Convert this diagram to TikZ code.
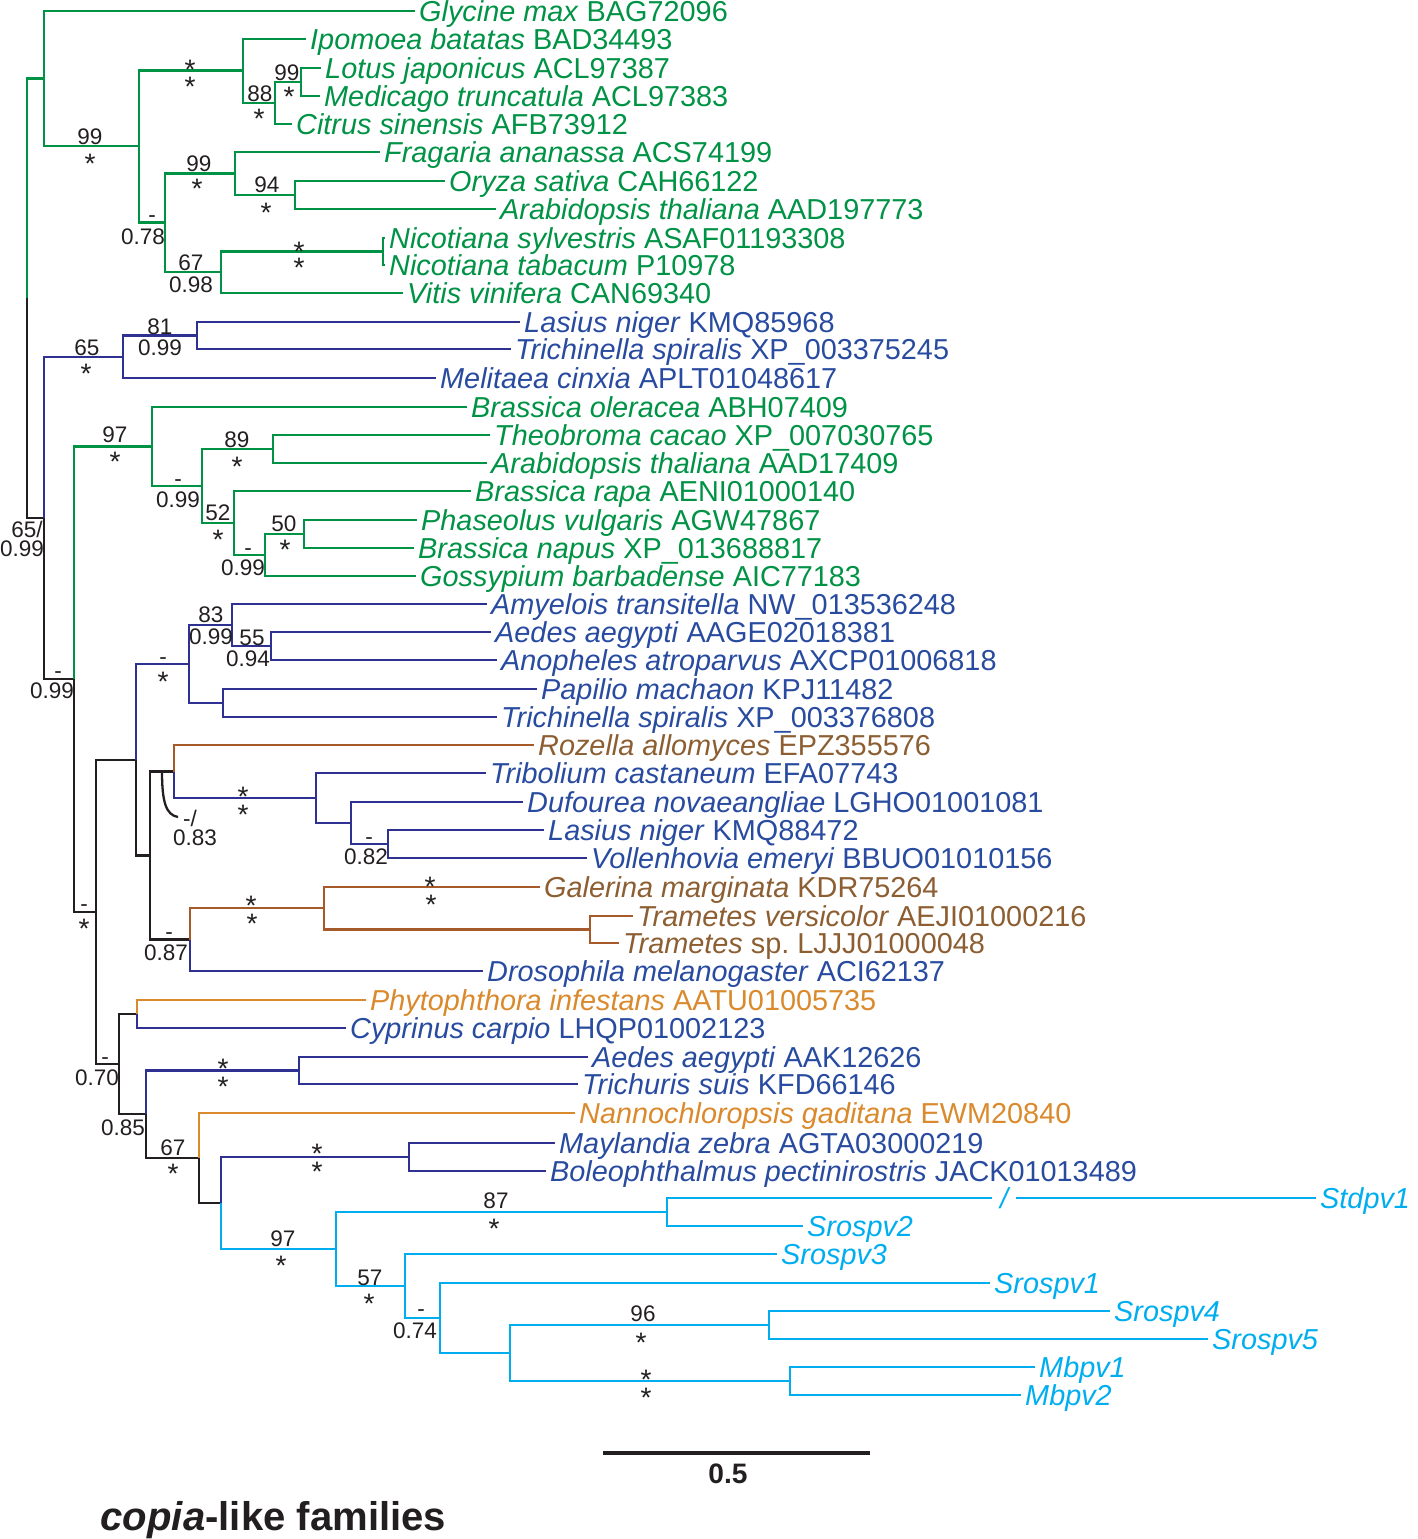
\documentclass[tikz,border=0pt]{standalone}
\usepackage{fontspec}
\setmainfont{Liberation Sans}
\usepackage{xcolor}
\usepackage{tikz}

\definecolor{plantgreen}{RGB}{0,146,69}
\definecolor{metabranch}{RGB}{46,49,146}
\definecolor{metatext}{RGB}{40,75,160}
\definecolor{fungbranch}{RGB}{166,90,42}
\definecolor{fungtext}{RGB}{140,94,50}
\definecolor{stramorange}{RGB}{218,138,44}
\definecolor{phagecyan}{RGB}{0,174,239}
\definecolor{rootblack}{RGB}{35,31,32}

\newcommand{\leaffont}{\fontsize{8.2}{9.8}\selectfont}
\newcommand{\supfont}{\fontsize{6.4}{7.6}\selectfont}
\newcommand{\astfont}{\fontsize{8}{9.6}\selectfont}
\newcommand{\pstar}{\raisebox{-3.35pt}{*}}

\begin{document}
\begin{tikzpicture}[
    x=0.01cm, y=-0.01cm,
    branch/.style={line width=0.65pt},
    kbr/.style={branch, draw=rootblack},
    gbr/.style={branch, draw=plantgreen},
    mbr/.style={branch, draw=metabranch},
    fbr/.style={branch, draw=fungbranch},
    obr/.style={branch, draw=stramorange},
    cbr/.style={branch, draw=phagecyan},
    leaf/.style={anchor=west, inner xsep=1pt, inner ysep=0pt, text height=5.9pt, text depth=0pt, font=\leaffont},
    plant/.style={leaf, text=plantgreen},
    meta/.style={leaf, text=metatext},
    fung/.style={leaf, text=fungtext},
    stram/.style={leaf, text=stramorange},
    phage/.style={leaf, text=phagecyan, font=\leaffont\itshape},
    bs/.style={inner sep=0pt, text height=4.6pt, text depth=0pt, font=\supfont, text=rootblack},
    ast/.style={inner sep=0pt, text height=2.4pt, text depth=0pt, font=\astfont, text=rootblack},
]
\useasboundingbox (0,0) rectangle (1418,1539);

% Internal nodes
\coordinate (r0) at (27,298);
\coordinate (r1) at (44,518);
\coordinate (r2) at (74,679);
\coordinate (r3) at (96,912);
\coordinate (r4) at (136,760);
\coordinate (r5) at (150,855.5);
\coordinate (r6) at (174,771.5);
\coordinate (r7) at (190,939.5);
\coordinate (r8) at (119,1064);
\coordinate (r9) at (137,1014);
\coordinate (r10) at (146,1114);
\coordinate (r11) at (199,1158);
\coordinate (r12) at (221,1203);

\coordinate (g0) at (44,78.5);
\coordinate (g1) at (139,146);
\coordinate (g2) at (243,70.5);
\coordinate (g3) at (275,103);
\coordinate (g4) at (301,82);
\coordinate (g5) at (165,222.5);
\coordinate (g6) at (235,173.5);
\coordinate (g7) at (295,195);
\coordinate (g8) at (221,272);
\coordinate (g9) at (383,251.5);

\coordinate (b0) at (123,357);
\coordinate (b1) at (197,335.5);

\coordinate (p0) at (152,446.5);
\coordinate (p1) at (202,486);
\coordinate (p2) at (273,449);
\coordinate (p3) at (234,523);
\coordinate (p4) at (265,555);
\coordinate (p5) at (304,534);

\coordinate (m0) at (189,664);
\coordinate (m1) at (232,625);
\coordinate (m2) at (271,646);
\coordinate (m3) at (223,703);

\coordinate (t0) at (316,798);
\coordinate (t1) at (351,823);
\coordinate (t2) at (388,844);
\coordinate (f0) at (324,908);
\coordinate (f1) at (590,929.5);
\coordinate (a0) at (299,1070.5);
\coordinate (z0) at (409,1157);

\coordinate (c0) at (336,1249);
\coordinate (c1) at (667,1212);
\coordinate (c2) at (405,1286);
\coordinate (c3) at (440,1318);
\coordinate (c4) at (510,1353);
\coordinate (c5) at (769,1325);
\coordinate (c6) at (790,1381);

% Leaves: plants (top)
\node[plant] (glycine) at (415,11) {\textit{Glycine max} BAG72096};
\node[plant] (ipomoea) at (306,39) {\textit{Ipomoea batatas} BAD34493};
\node[plant] (lotus) at (321,68) {\textit{Lotus japonicus} ACL97387};
\node[plant] (medicago) at (320,96) {\textit{Medicago truncatula} ACL97383};
\node[plant] (citrus) at (292,124) {\textit{Citrus sinensis} AFB73912};
\node[plant] (fragaria) at (380,152) {\textit{Fragaria ananassa} ACS74199};
\node[plant] (oryza) at (445,181) {\textit{Oryza sativa} CAH66122};
\node[plant] (arabidA) at (496,209) {\textit{Arabidopsis thaliana} AAD197773};
\node[plant] (nicsyl) at (385,238) {\textit{Nicotiana sylvestris} ASAF01193308};
\node[plant] (nictab) at (385,265) {\textit{Nicotiana tabacum} P10978};
\node[plant] (vitis) at (403,293) {\textit{Vitis vinifera} CAN69340};

% Leaves: metazoa (upper)
\node[meta] (lasiusA) at (520,322) {\textit{Lasius niger} KMQ85968};
\node[meta] (trichA) at (511,349) {\textit{Trichinella spiralis} XP\_003375245};
\node[meta] (melitaea) at (436,378) {\textit{Melitaea cinxia} APLT01048617};

% Leaves: plants (lower)
\node[plant] (brassO) at (467,407) {\textit{Brassica oleracea} ABH07409};
\node[plant] (theobroma) at (490,435) {\textit{Theobroma cacao} XP\_007030765};
\node[plant] (arabidB) at (487,463) {\textit{Arabidopsis thaliana} AAD17409};
\node[plant] (brassR) at (471,491) {\textit{Brassica rapa} AENI01000140};
\node[plant] (phaseolus) at (417,520) {\textit{Phaseolus vulgaris} AGW47867};
\node[plant] (brassN) at (414,548) {\textit{Brassica napus} XP\_013688817};
\node[plant] (gossypium) at (416,576) {\textit{Gossypium barbadense} AIC77183};

% Leaves: mixed middle
\node[meta] (amyelois) at (487,604) {\textit{Amyelois transitella} NW\_013536248};
\node[meta] (aedesA) at (491,632) {\textit{Aedes aegypti} AAGE02018381};
\node[meta] (anopheles) at (497,660) {\textit{Anopheles atroparvus} AXCP01006818};
\node[meta] (papilio) at (537,689) {\textit{Papilio machaon} KPJ11482};
\node[meta] (trichB) at (497,717) {\textit{Trichinella spiralis} XP\_003376808};
\node[fung] (rozella) at (534,745) {\textit{Rozella allomyces} EPZ355576};
\node[meta] (tribolium) at (486,773) {\textit{Tribolium castaneum} EFA07743};
\node[meta] (dufourea) at (523,802) {\textit{Dufourea novaeangliae} LGHO01001081};
\node[meta] (lasiusB) at (544,830) {\textit{Lasius niger} KMQ88472};
\node[meta] (vollen) at (587,858) {\textit{Vollenhovia emeryi} BBUO01010156};
\node[fung] (galerina) at (540,887) {\textit{Galerina marginata} KDR75264};
\node[fung] (tramV) at (633,916) {\textit{Trametes versicolor} AEJI01000216};
\node[fung] (tramS) at (619,943) {\textit{Trametes} sp.\ LJJJ01000048};
\node[meta] (drosophila) at (483,971) {\textit{Drosophila melanogaster} ACI62137};
\node[stram] (phyto) at (366,1000) {\textit{Phytophthora infestans} AATU01005735};
\node[meta] (cyprinus) at (346,1028) {\textit{Cyprinus carpio} LHQP01002123};
\node[meta] (aedesB) at (588,1057) {\textit{Aedes aegypti} AAK12626};
\node[meta] (trichuris) at (578,1084) {\textit{Trichuris suis} KFD66146};
\node[stram] (nanno) at (575,1113) {\textit{Nannochloropsis gaditana} EWM20840};
\node[meta] (maylandia) at (555,1143) {\textit{Maylandia zebra} AGTA03000219};
\node[meta] (boleo) at (546,1171) {\textit{Boleophthalmus pectinirostris} JACK01013489};

% Leaves: phages
\node[phage] (stdpv1) at (1316,1198) {Stdpv1};
\node[phage] (srospv2) at (803,1226) {Srospv2};
\node[phage] (srospv3) at (777,1254) {Srospv3};
\node[phage] (srospv1) at (990,1283) {Srospv1};
\node[phage] (srospv4) at (1110,1311) {Srospv4};
\node[phage] (srospv5) at (1208,1339) {Srospv5};
\node[phage] (mbpv1) at (1035,1367) {Mbpv1};
\node[phage] (mbpv2) at (1021,1395) {Mbpv2};
\node[phage, inner xsep=2pt, anchor=center] (brk) at (1004,1198) {/};

% Branches
\draw[gbr] (r0) |- (g0);
\draw[kbr] (r0) |- (r1);
\draw[gbr] (g0) |- (glycine);
\draw[gbr] (g0) |- (g1);
\draw[gbr] (g1) |- (g2);
\draw[gbr] (g1) |- (g5);
\draw[gbr] (g2) |- (ipomoea);
\draw[gbr] (g2) |- (g3);
\draw[gbr] (g3) |- (g4);
\draw[gbr] (g3) |- (citrus);
\draw[gbr] (g4) |- (lotus);
\draw[gbr] (g4) |- (medicago);
\draw[gbr] (g5) |- (g6);
\draw[gbr] (g5) |- (g8);
\draw[gbr] (g6) |- (fragaria);
\draw[gbr] (g6) |- (g7);
\draw[gbr] (g7) |- (oryza);
\draw[gbr] (g7) |- (arabidA);
\draw[gbr] (g8) |- (g9);
\draw[gbr] (g8) |- (vitis);
\draw[gbr] (g9) |- (nicsyl);
\draw[gbr] (g9) |- (nictab);

\draw[mbr] (r1) |- (b0);
\draw[kbr] (r1) |- (r2);
\draw[mbr] (b0) |- (b1);
\draw[mbr] (b0) |- (melitaea);
\draw[mbr] (b1) |- (lasiusA);
\draw[mbr] (b1) |- (trichA);

\draw[gbr] (r2) |- (p0);
\draw[kbr] (r2) |- (r3);
\draw[gbr] (p0) |- (brassO);
\draw[gbr] (p0) |- (p1);
\draw[gbr] (p1) |- (p2);
\draw[gbr] (p1) |- (p3);
\draw[gbr] (p2) |- (theobroma);
\draw[gbr] (p2) |- (arabidB);
\draw[gbr] (p3) |- (brassR);
\draw[gbr] (p3) |- (p4);
\draw[gbr] (p4) |- (p5);
\draw[gbr] (p4) |- (gossypium);
\draw[gbr] (p5) |- (phaseolus);
\draw[gbr] (p5) |- (brassN);

\draw[kbr] (r3) |- (r4);
\draw[kbr] (r3) |- (r8);
\draw[mbr] (r4) |- (m0);
\draw[kbr] (r4) |- (r5);
\draw[mbr] (m0) |- (m1);
\draw[mbr] (m0) |- (m3);
\draw[mbr] (m1) |- (amyelois);
\draw[mbr] (m1) |- (m2);
\draw[mbr] (m2) |- (aedesA);
\draw[mbr] (m2) |- (anopheles);
\draw[mbr] (m3) |- (papilio);
\draw[mbr] (m3) |- (trichB);

\draw[kbr] (r5) |- (r6);
\draw[kbr] (r5) |- (r7);
\draw[fbr] (r6) |- (rozella);
\draw[mbr] (r6) |- (t0);
\draw[mbr] (t0) |- (tribolium);
\draw[mbr] (t0) |- (t1);
\draw[mbr] (t1) |- (dufourea);
\draw[mbr] (t1) |- (t2);
\draw[mbr] (t2) |- (lasiusB);
\draw[mbr] (t2) |- (vollen);
\draw[fbr] (r7) |- (f0);
\draw[mbr] (r7) |- (drosophila);
\draw[fbr] (f0) |- (galerina);
\draw[fbr] (f0) |- (f1);
\draw[fbr] (f1) |- (tramV);
\draw[fbr] (f1) |- (tramS);

\draw[kbr] (r8) |- (r9);
\draw[kbr] (r8) |- (r10);
\draw[obr] (r9) |- (phyto);
\draw[mbr] (r9) |- (cyprinus);
\draw[mbr] (r10) |- (a0);
\draw[kbr] (r10) |- (r11);
\draw[mbr] (a0) |- (aedesB);
\draw[mbr] (a0) |- (trichuris);
\draw[obr] (r11) |- (nanno);
\draw[kbr] (r11) |- (r12);
\draw[mbr] (r12) |- (z0);
\draw[cbr] (r12) |- (c0);
\draw[mbr] (z0) |- (maylandia);
\draw[mbr] (z0) |- (boleo);

\draw[cbr] (c0) |- (c1);
\draw[cbr] (c0) |- (c2);
\draw[cbr] (c1) |- (brk.west);
\draw[cbr] (brk.east) -- (stdpv1);
\draw[cbr] (c1) |- (srospv2);
\draw[cbr] (c2) |- (srospv3);
\draw[cbr] (c2) |- (c3);
\draw[cbr] (c3) |- (srospv1);
\draw[cbr] (c3) |- (c4);
\draw[cbr] (c4) |- (c5);
\draw[cbr] (c4) |- (c6);
\draw[cbr] (c5) |- (srospv4);
\draw[cbr] (c5) |- (srospv5);
\draw[cbr] (c6) |- (mbpv1);
\draw[cbr] (c6) |- (mbpv2);

% Arc marking the -/0.83 node
\coordinate (arcA) at (162,771.5);
\coordinate (arcB) at (178,817);
\draw[kbr] (arcA) .. controls (162,802) and (166,815) .. (arcB);

% Support values
\node[bs] (g1bs) at (90,136) {99};
\node[ast] (g1pp) at (90,157) {\pstar};
\node[ast] (g2bs) at (190,63) {\pstar};
\node[ast] (g2pp) at (190,80) {\pstar};
\node[bs] (g4bs) at (287,72) {99};
\node[ast] (g4pp) at (289,90) {\pstar};
\node[bs] (g3bs) at (260,93) {88};
\node[ast] (g3pp) at (259,112) {\pstar};
\node[bs] (g6bs) at (199,163) {99};
\node[ast] (g6pp) at (197,182) {\pstar};
\node[bs] (g7bs) at (267,184) {94};
\node[ast] (g7pp) at (266,206) {\pstar};
\node[bs] (g5bs) at (152,214) {-};
\node[bs] (g5pp) at (143,236) {0.78};
\node[ast] (g9bs) at (299,245) {\pstar};
\node[ast] (g9pp) at (299,261) {\pstar};
\node[bs] (g8bs) at (191,262) {67};
\node[bs] (g8pp) at (191,284) {0.98};

\node[bs] (b0bs) at (87,347) {65};
\node[ast] (b0pp) at (86,367) {\pstar};
\node[bs] (b1bs) at (160,326) {81};
\node[bs] (b1pp) at (160,347) {0.99};
\node[bs] (r1bs) at (27,529) {65/};
\node[bs] (r1pp) at (22,548) {0.99};

\node[bs] (p0bs) at (115,434) {97};
\node[ast] (p0pp) at (115,455) {\pstar};
\node[bs] (p1bs) at (178,478) {-};
\node[bs] (p1pp) at (178,499) {0.99};
\node[bs] (p2bs) at (237,439) {89};
\node[ast] (p2pp) at (237,460) {\pstar};
\node[bs] (p3bs) at (218,512) {52};
\node[ast] (p3pp) at (218,533) {\pstar};
\node[bs] (p5bs) at (284,523) {50};
\node[ast] (p5pp) at (285,543) {\pstar};
\node[bs] (p4bs) at (248,547) {-};
\node[bs] (p4pp) at (243,567) {0.99};
\node[bs] (r2bs) at (58,670) {-};
\node[bs] (r2pp) at (52,690) {0.99};

\node[bs] (m0bs) at (163,656) {-};
\node[ast] (m0pp) at (163,675) {\pstar};
\node[bs] (m1bs) at (211,614) {83};
\node[bs] (m1pp) at (211,636) {0.99};
\node[bs] (m2bs) at (252,637) {55};
\node[bs] (m2pp) at (248,658) {0.94};
\node[ast] (t0bs) at (243,790) {\pstar};
\node[ast] (t0pp) at (243,808) {\pstar};
\node[bs] (r6bs) at (190,818) {-/};
\node[bs] (r6pp) at (195,837) {0.83};
\node[bs] (t2bs) at (369,836) {-};
\node[bs] (t2pp) at (366,856) {0.82};
\node[ast] (gmbs) at (430,880) {\pstar};
\node[ast] (gmpp) at (431,898) {\pstar};
\node[ast] (f0bs) at (251,899) {\pstar};
\node[ast] (f0pp) at (252,917) {\pstar};
\node[bs] (r7bs) at (169,931) {-};
\node[bs] (r7pp) at (166,952) {0.87};
\node[bs] (r3bs) at (84,903) {-};
\node[ast] (r3pp) at (84,922) {\pstar};
\node[bs] (r8bs) at (105,1056) {-};
\node[bs] (r8pp) at (97,1077) {0.70};
\node[ast] (a0bs) at (223,1062) {\pstar};
\node[ast] (a0pp) at (223,1080) {\pstar};
\node[bs] (r10pp) at (123,1127) {0.85};
\node[bs] (r11bs) at (173,1147) {67};
\node[ast] (r11pp) at (173,1167) {\pstar};
\node[ast] (z0bs) at (317,1147) {\pstar};
\node[ast] (z0pp) at (317,1165) {\pstar};

\node[bs] (c1bs) at (496,1200) {87};
\node[ast] (c1pp) at (494,1222) {\pstar};
\node[bs] (c0bs) at (283,1238) {97};
\node[ast] (c0pp) at (281,1259) {\pstar};
\node[bs] (c2bs) at (370,1277) {57};
\node[ast] (c2pp) at (369,1297) {\pstar};
\node[bs] (c3bs) at (421,1308) {-};
\node[bs] (c3pp) at (415,1330) {0.74};
\node[bs] (c5bs) at (643,1313) {96};
\node[ast] (c5pp) at (641,1336) {\pstar};
\node[ast] (c6bs) at (646,1373) {\pstar};
\node[ast] (c6pp) at (646,1391) {\pstar};

% Scale bar and title
\coordinate (sbL) at (603,1453);
\coordinate (sbR) at (870,1453);
\draw[rootblack, line width=0.9pt] (sbL) -- (sbR);
\node[inner sep=0pt, text height=5.8pt, text depth=0pt, font=\fontsize{8}{9.6}\selectfont\bfseries, text=rootblack] (sblab) at (728,1473) {0.5};
\node[anchor=base west, inner sep=0pt, font=\fontsize{11.4}{13.7}\selectfont\bfseries, text=rootblack] (title) at (100,1530) {\textit{copia}-like families};

\end{tikzpicture}
\end{document}
